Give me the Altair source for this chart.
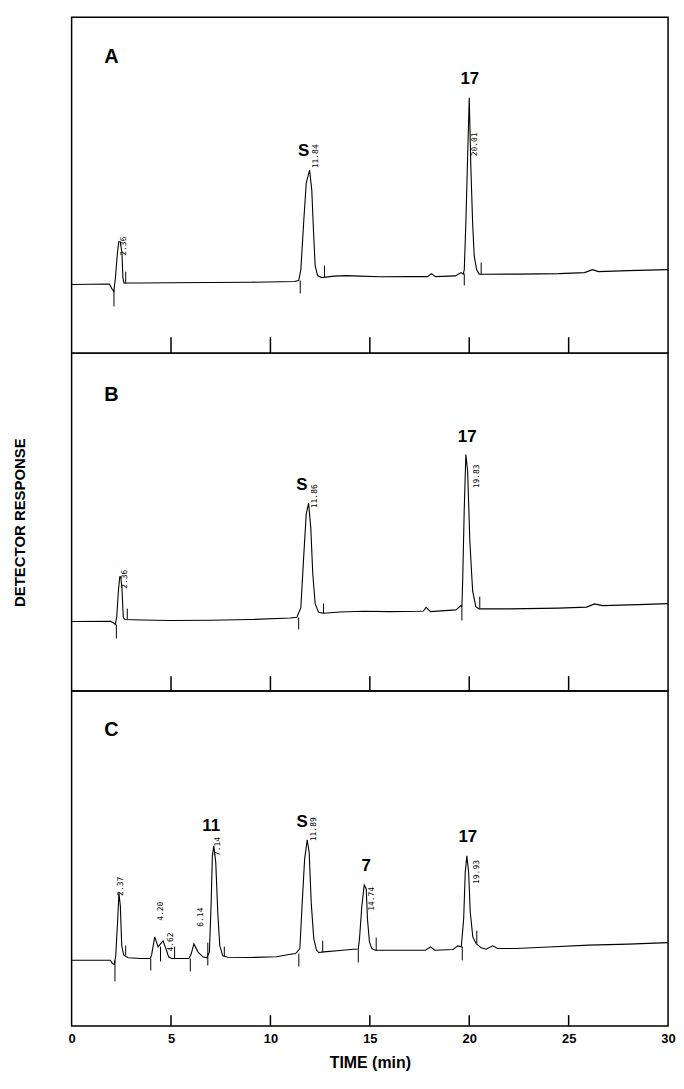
import altair as alt
import pandas as pd

FONT = "Liberation Sans"
MONO = "DejaVu Sans Mono"

TICK_VALUES = [5, 10, 15, 20, 25]
AXIS_LABELS = [0, 5, 10, 15, 20, 25, 30]
PANEL_HEIGHTS = [338, 340, 337]
PANEL_LETTERS = ["A", "B", "C"]

# ---------------- Panel A ----------------
a_time = [0.0, 1.9, 2.05, 2.12, 2.2, 2.3, 2.37, 2.45, 2.53, 2.58, 2.63, 3.5, 5.0, 7.0, 9.0,
          11.2, 11.42, 11.53, 11.67, 11.8, 11.97, 12.08, 12.17, 12.25, 12.37, 12.58, 13.2,
          13.8, 14.5, 15.5, 17.0, 17.9, 18.1, 18.3, 19.3, 19.58, 19.7, 19.75, 19.83, 19.92,
          20.0, 20.08, 20.17, 20.25, 20.37, 20.5, 20.7, 22.5, 24.5, 25.8, 26.2, 26.5, 28.0, 30.0]
a_resp = [69, 69.5, 64, 62, 75, 100, 112, 112, 101, 76, 70.5, 70.5, 70.8, 71, 71.3,
          72, 73, 84, 131, 171, 184, 164, 121, 88, 78, 76, 77.5,
          78, 77.5, 76.8, 77, 77, 80, 77, 77.7, 81, 79.5, 84, 131, 198,
          257, 188, 131, 98, 84, 79.5, 79.3, 79.5, 80, 81, 84, 82, 83, 84]
a_mark_t = [2.13, 2.72, 11.5, 12.72, 19.75, 20.6]
a_mark_lo = [47, 70, 60, 76, 68, 79]
a_mark_hi = [64, 82, 73, 88, 80, 91]
a_peak_names = ["S", "17"]
a_peak_t = [11.67, 20.03]
a_peak_r = [203, 276]
a_rt_labels = ["2.36", "11.84", "20.01"]
a_rt_t = [2.65, 12.3, 20.3]
a_rt_r = [98, 186, 198]

# ---------------- Panel B ----------------
b_time = [0.0, 1.95, 2.12, 2.2, 2.27, 2.35, 2.42, 2.47, 2.53, 2.6, 2.68, 3.5, 5.0, 7.0, 9.0,
          11.0, 11.33, 11.53, 11.67, 11.8, 11.92, 12.03, 12.13, 12.25, 12.42, 12.67, 13.5,
          14.7, 16.0, 17.5, 17.7, 17.83, 18.05, 19.33, 19.58, 19.63, 19.67, 19.75, 19.83,
          19.92, 20.03, 20.17, 20.33, 20.5, 22.0, 24.5, 25.9, 26.3, 26.7, 28.5, 30.0]
b_resp = [70, 70.3, 68.5, 67, 75, 100, 115, 115, 104, 74, 72, 71.5, 71, 71.3, 72,
          73.5, 74.3, 84, 134, 178, 189, 164, 118, 88, 79.3, 78.3, 79.5,
          80.3, 80, 80.3, 80.5, 84.3, 80, 81.7, 86, 84, 111, 184, 238,
          221, 151, 101, 85, 82.7, 82.7, 83.5, 84.5, 87.7, 86, 87, 88]
b_mark_t = [2.25, 2.8, 11.42, 12.67, 19.63, 20.53]
b_mark_lo = [53, 72, 62, 78, 71, 83]
b_mark_hi = [67, 83, 74, 88, 84, 95]
b_peak_names = ["S", "17"]
b_peak_t = [11.58, 19.9]
b_peak_r = [207, 256]
b_rt_labels = ["2.36", "11.86", "19.83"]
b_rt_t = [2.7, 12.25, 20.37]
b_rt_r = [103, 184, 204]

# ---------------- Panel C ----------------
c_time = [0.0, 1.95, 2.05, 2.15, 2.22, 2.32, 2.38, 2.45, 2.52, 2.62, 2.85, 3.5, 3.95, 4.02,
          4.18, 4.35, 4.6, 4.77, 4.88, 5.02, 5.9, 6.02, 6.15, 6.35, 6.6, 6.8, 6.93, 7.02,
          7.08, 7.15, 7.25, 7.35, 7.45, 7.6, 7.85, 9.0, 10.3, 10.93, 11.27, 11.48, 11.6,
          11.72, 11.85, 11.95, 12.05, 12.18, 12.32, 12.43, 12.68, 13.5, 14.18, 14.42, 14.48,
          14.6, 14.72, 14.82, 14.88, 14.98, 15.1, 15.27, 16.5, 17.8, 18.05, 18.27, 19.18,
          19.43, 19.6, 19.72, 19.8, 19.88, 19.97, 20.05, 20.18, 20.35, 20.6, 20.85, 21.18,
          21.43, 22.35, 24.0, 26.0, 28.0, 30.0]
c_resp = [66.3, 66.3, 63, 62, 71, 108, 134, 121, 81, 71.3, 68.7, 68, 68, 71.3,
          89.7, 79.7, 85.7, 76.3, 69.7, 68, 68, 73, 82.7, 74.7, 69.7, 68.7, 74.7, 124.7,
          171.3, 181.3, 164.7, 114.7, 81.3, 70.7, 69.3, 69, 69.7, 72, 73, 78, 124.7,
          168, 187.3, 174.7, 124.7, 88, 76.3, 74, 74.7, 76, 77.3, 77.5, 88,
          121.3, 142, 138, 108, 84.7, 78, 76.3, 76.3, 76.3, 79.7, 76.3, 77,
          80.7, 79.7, 108, 154.7, 171.3, 154.7, 114.7, 89.7, 83, 78.7, 77.3, 80.7,
          78, 78, 79.5, 81.5, 82.5, 84]
c_mark_t = [2.18, 2.72, 3.98, 4.47, 5.18, 5.97, 6.85, 7.68, 11.43, 12.63, 14.42, 15.32, 19.65, 20.38]
c_mark_lo = [45, 71, 56, 65, 68, 55, 61, 70, 60, 74, 64, 76, 66, 83]
c_mark_hi = [66, 81, 68, 80, 80, 68, 84, 80, 73, 86, 77, 89, 80, 96]
c_peak_names = ["11", "S", "7", "17"]
c_peak_t = [7.02, 11.6, 14.82, 19.93]
c_peak_r = [201, 205, 161, 190]
c_rt_labels = ["2.37", "4.20", "4.62", "6.14", "7.14", "11.89", "14.74", "19.93"]
c_rt_t = [2.48, 4.52, 5.02, 6.52, 7.35, 12.18, 15.1, 20.38]
c_rt_r = [131, 106, 75, 100, 171, 186, 116, 143]


def panel(letter, h, times, resp, mt, mlo, mhi, pn, pt, pr, rl, rt, rr,
          tick_len, x_axis, y_axis):
    xs = alt.Scale(domain=[0, 30], nice=False, zero=False)
    ys = alt.Scale(domain=[0, h], nice=False, zero=False)

    def X(f):
        return alt.X(f"{f}:Q", scale=xs, axis=x_axis)

    def Y(f):
        return alt.Y(f"{f}:Q", scale=ys, axis=y_axis)

    trace = pd.DataFrame({"t": times, "r": resp, "i": list(range(len(times)))})
    line = alt.Chart(trace).mark_line(color="black", strokeWidth=1.1).encode(
        x=X("t"), y=Y("r"), order="i:Q")

    mk = pd.DataFrame({"t": mt, "lo": mlo, "hi": mhi})
    markers = alt.Chart(mk).mark_rule(color="black", strokeWidth=1).encode(
        x=X("t"), y=Y("lo"), y2="hi:Q")

    tk = pd.DataFrame({"t": TICK_VALUES})
    ticks = alt.Chart(tk).mark_rule(color="black", strokeWidth=1.5).encode(
        x=X("t"), y=alt.value(h), y2=alt.value(h - tick_len))

    lt = pd.DataFrame({"t": [2.0], "r": [298], "label": [letter]})
    letter_txt = alt.Chart(lt).mark_text(
        font=FONT, fontWeight="bold", fontSize=20, color="black",
        align="center", baseline="middle").encode(x=X("t"), y=Y("r"), text="label:N")

    pk = pd.DataFrame({"t": pt, "r": pr, "label": pn})
    peak_txt = alt.Chart(pk).mark_text(
        font=FONT, fontWeight="bold", fontSize=17, color="black",
        align="center", baseline="middle").encode(x=X("t"), y=Y("r"), text="label:N")

    rtd = pd.DataFrame({"t": rt, "r": rr, "label": rl})
    rt_txt = alt.Chart(rtd).mark_text(
        font=MONO, fontSize=8, color="black", angle=270,
        align="left", baseline="middle").encode(x=X("t"), y=Y("r"), text="label:N")

    return alt.layer(line, markers, ticks, letter_txt, peak_txt, rt_txt).properties(
        width=600, height=h)


no_y = None
y_title_axis = alt.Axis(title="DETECTOR RESPONSE", labels=False, ticks=False, domain=False,
                        grid=False, titleFont=FONT, titleFontSize=15, titleFontWeight="bold",
                        titleColor="black", titlePadding=44)
bottom_axis = alt.Axis(values=AXIS_LABELS, format="d", ticks=False, domain=False, grid=False,
                       labelFont=FONT, labelFontWeight="bold", labelFontSize=13,
                       labelColor="black", labelPadding=7, labelFlush=False,
                       title="TIME (min)", titleFont=FONT, titleFontSize=16,
                       titleFontWeight="bold", titleColor="black", titlePadding=9)

pA = panel("A", PANEL_HEIGHTS[0], a_time, a_resp, a_mark_t, a_mark_lo, a_mark_hi,
           a_peak_names, a_peak_t, a_peak_r, a_rt_labels, a_rt_t, a_rt_r, 16, None, no_y)
pB = panel("B", PANEL_HEIGHTS[1], b_time, b_resp, b_mark_t, b_mark_lo, b_mark_hi,
           b_peak_names, b_peak_t, b_peak_r, b_rt_labels, b_rt_t, b_rt_r, 15, None, y_title_axis)
pC = panel("C", PANEL_HEIGHTS[2], c_time, c_resp, c_mark_t, c_mark_lo, c_mark_hi,
           c_peak_names, c_peak_t, c_peak_r, c_rt_labels, c_rt_t, c_rt_r, 11, bottom_axis, no_y)

chart = alt.vconcat(pA, pB, pC, spacing=0, bounds="flush").properties(
    padding={"left": 4, "top": 5, "right": 0, "bottom": 0},
    background="white"
).configure_view(stroke="black", strokeWidth=1.5)

chart.save("out.html", embed_options={"renderer": "svg", "actions": False})
